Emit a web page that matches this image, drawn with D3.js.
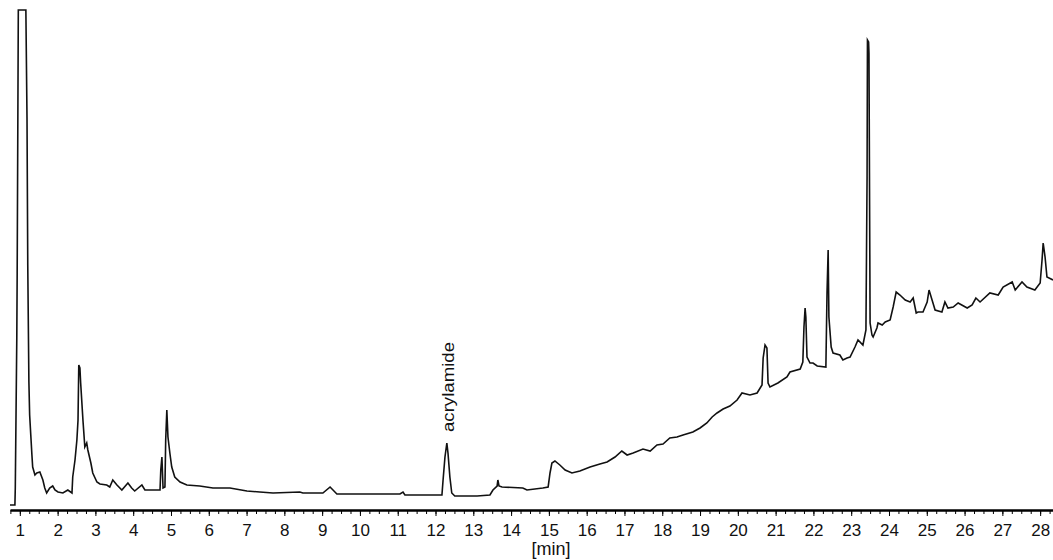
<!DOCTYPE html>
<html>
<head>
<meta charset="utf-8">
<script src="https://cdn.jsdelivr.net/npm/d3@7"></script>
<style>
    body { margin: 0; background: #fff; }
    svg { display: block; font-family: "Liberation Sans", Arial, sans-serif; }
</style>
</head>
<body>
<svg id="chart" width="1053" height="560"></svg>
<script>
// retention time [min] and detector signal (relative units, 99 = full scale)
const times = [
    0.74, 0.87, 0.88, 0.92, 0.93, 0.96, 1.16, 1.19, 1.21, 1.24, 1.26, 1.29, 1.32, 1.34, 1.40,
    1.45, 1.53, 1.61, 1.66, 1.71, 1.79, 1.87, 1.93, 2.01, 2.14, 2.27, 2.38, 2.40, 2.46, 2.51,
    2.54, 2.56, 2.59, 2.61, 2.67, 2.72, 2.77, 2.80, 2.88, 2.93, 3.04, 3.12, 3.30, 3.38, 3.46,
    3.57, 3.70, 3.86, 3.96, 4.04, 4.23, 4.31, 4.71, 4.73, 4.76, 4.79, 4.84, 4.86, 4.89, 4.92,
    4.97, 5.02, 5.10, 5.24, 5.42, 5.76, 6.11, 6.56, 7.01, 7.35, 7.70, 8.41, 8.49, 9.02, 9.21,
    9.39, 11.06, 11.14, 11.19, 12.17, 12.20, 12.25, 12.30, 12.33, 12.38, 12.43, 12.51, 13.10, 13.44,
    13.52, 13.63, 13.65, 13.68, 13.76, 14.31, 14.42, 14.84, 14.98, 15.03, 15.08, 15.16, 15.29, 15.43,
    15.61, 15.82, 16.09, 16.35, 16.54, 16.75, 16.93, 17.07, 17.23, 17.49, 17.68, 17.86, 18.02, 18.20,
    18.39, 18.55, 18.81, 19.00, 19.18, 19.32, 19.45, 19.61, 19.79, 19.98, 20.11, 20.32, 20.51, 20.64,
    20.67, 20.72, 20.77, 20.80, 20.85, 21.06, 21.30, 21.38, 21.65, 21.72, 21.75, 21.78, 21.80, 21.83,
    21.91, 21.99, 22.10, 22.33, 22.36, 22.39, 22.41, 22.47, 22.52, 22.70, 22.78, 22.89, 22.97, 23.10,
    23.18, 23.31, 23.39, 23.42, 23.43, 23.46, 23.47, 23.50, 23.55, 23.58, 23.68, 23.71, 23.82, 23.90,
    24.03, 24.11, 24.19, 24.29, 24.43, 24.56, 24.64, 24.72, 24.77, 24.90, 25.01, 25.06, 25.14, 25.22,
    25.40, 25.48, 25.56, 25.70, 25.83, 26.07, 26.20, 26.30, 26.41, 26.67, 26.89, 27.02, 27.26, 27.34,
    27.52, 27.65, 27.86, 28.00, 28.05, 28.08, 28.13, 28.18, 28.34
];
const signal = [
    0, 0, 3.4, 33.6, 46.4, 99, 99, 77.4, 48, 24.6, 18, 14, 10, 7.6, 6,
    6.4, 6.6, 5, 3.4, 2.4, 3.4, 3.8, 3, 2.6, 2.4, 3, 2.4, 5.6, 9, 13,
    17, 28, 27.4, 24.4, 17, 11.6, 12.4, 11, 8.4, 6.4, 4.6, 4.2, 4, 3.6, 5,
    4, 3, 4.4, 3.4, 2.8, 4, 3, 3, 7, 9.6, 3.4, 3.6, 13, 19, 13.6,
    10.4, 7.6, 5.6, 4.6, 4, 3.8, 3.4, 3.4, 2.8, 2.6, 2.4, 2.6, 2.4, 2.4, 3.6,
    2.2, 2.2, 2.6, 2, 2, 5, 9.6, 12.4, 10.4, 5.6, 2.4, 1.8, 1.8, 2,
    3, 3.8, 5, 3.8, 3.6, 3.4, 3, 3.4, 3.6, 6.4, 8.4, 8.8, 8, 7,
    6.4, 6.8, 7.6, 8.2, 8.6, 9.6, 10.8, 10, 10.4, 11.2, 10.8, 12, 12.2, 13.4,
    13.6, 14, 14.6, 15.4, 16.4, 17.6, 18.4, 19.2, 19.8, 21, 22.4, 22, 22.4, 24,
    29.4, 32, 31.4, 24.4, 23.6, 24.4, 25.6, 26.6, 27.2, 28.6, 35.6, 39.4, 37.6, 29.6,
    28.4, 28.4, 27.8, 27.6, 42.4, 51, 37.6, 31.6, 30.4, 30, 29, 29.4, 29.6, 31.6,
    33, 32, 35, 65.6, 93, 92.6, 90.4, 36.4, 34, 33.6, 35.4, 36.4, 36, 36.6,
    37, 39.6, 42.6, 42, 41, 40.6, 41.4, 38.4, 38.6, 38.6, 40.6, 43, 41, 39,
    38.6, 40.6, 39.4, 39.6, 40.4, 39.4, 40, 41.4, 40.6, 42.4, 42, 43.6, 44.6, 43,
    44.6, 43.6, 43, 44.4, 49, 52.4, 49.6, 45.6, 45
];
const majorTicks = d3.range(1, 29);
const minorTicks = d3.range(0.75, 28.3, 0.25);
const peakLabel = { text: 'acrylamide', time: 12.3, value: 12.4 };

const svg = d3.select('#chart');

const x = d3.scaleLinear().domain([0.74, 28.34]).range([10, 1053]);
const y = d3.scaleLinear().domain([0, 99]).range([505, 10]);
const axisY = 510;

// minor ticks (no labels)
svg.append('g')
    .attr('transform', 'translate(0,' + axisY + ')')
    .call(d3.axisBottom(x).tickValues(minorTicks).tickSize(4).tickFormat(''))
    .call(g => g.select('.domain').remove())
    .call(g => g.selectAll('line').attr('stroke', '#000').attr('stroke-width', 1));

// major ticks with labels
svg.append('g')
    .attr('transform', 'translate(0,' + axisY + ')')
    .call(d3.axisBottom(x).tickValues(majorTicks).tickSize(6).tickSizeOuter(0).tickPadding(8).tickFormat(d3.format('d')))
    .call(g => g.select('.domain').attr('stroke', '#000').attr('stroke-width', 2.5))
    .call(g => g.selectAll('line').attr('stroke', '#000').attr('stroke-width', 1))
    .call(g => g.selectAll('text')
        .attr('fill', '#111')
        .style('font-size', '17px')
        .style('font-family', '"Liberation Sans", Arial, sans-serif'));

svg.append('text')
    .attr('x', 551)
    .attr('y', 555)
    .attr('text-anchor', 'middle')
    .attr('fill', '#111')
    .style('font-size', '18px')
    .text('[min]');

// chromatogram trace
const points = times.map((t, i) => [t, signal[i]]);
const line = d3.line()
    .x(d => x(d[0]))
    .y(d => y(d[1]));

svg.append('path')
    .datum(points)
    .attr('fill', 'none')
    .attr('stroke', '#111')
    .attr('stroke-width', 1.6)
    .attr('stroke-linejoin', 'miter')
    .attr('d', line);

// peak annotation
svg.append('text')
    .attr('transform', 'translate(' + (x(peakLabel.time) + 7) + ',' + (y(peakLabel.value) - 11) + ') rotate(-90)')
    .attr('fill', '#111')
    .attr('textLength', 90)
    .attr('lengthAdjust', 'spacingAndGlyphs')
    .style('font-size', '17px')
    .text(peakLabel.text);
</script>
</body>
</html>
